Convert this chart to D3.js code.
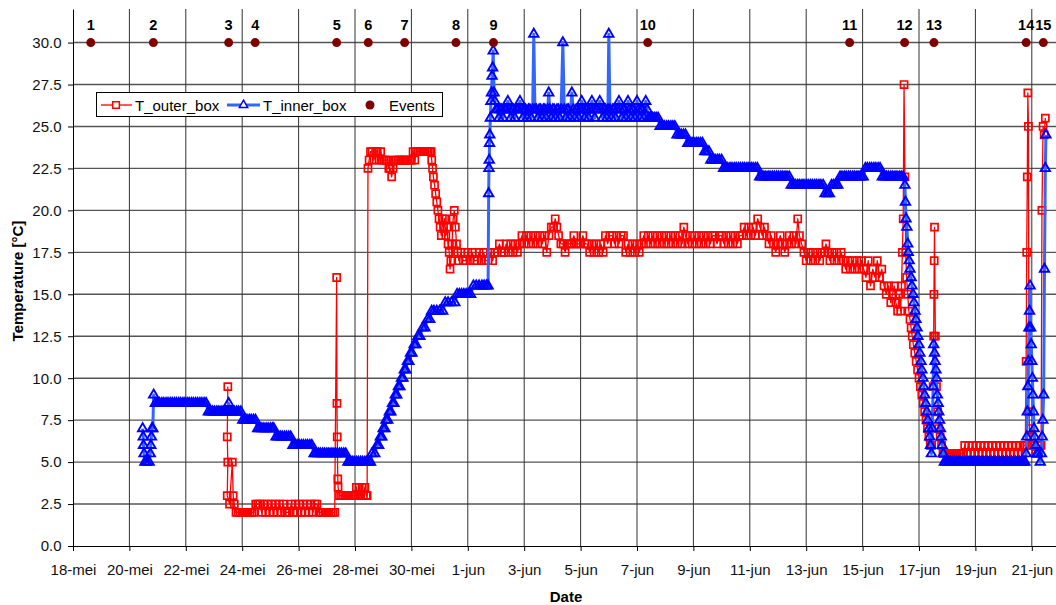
<!DOCTYPE html>
<html>
<head>
<meta charset="utf-8">
<script src="https://cdn.jsdelivr.net/npm/d3@7"></script>
<style>
  body { margin: 0; background: #fff; }
  svg { display: block; font-family: "Liberation Sans", Arial, sans-serif; }
</style>
</head>
<body>
<svg id="chart" width="1056" height="605"></svg>
<script>
// x values are days after 18-mei (0 = 18-mei 00:00)

// Tick labels of the date axis, one every 2 days
const dateTicks = [0, 2, 4, 6, 8, 10, 12, 14, 16, 18, 20, 22, 24, 26, 28, 30, 32, 34];
const dateLabels = ["18-mei", "20-mei", "22-mei", "24-mei", "26-mei", "28-mei", "30-mei",
    "1-jun", "3-jun", "5-jun", "7-jun", "9-jun", "11-jun", "13-jun", "15-jun",
    "17-jun", "19-jun", "21-jun"];
const tempTicks = [0, 2.5, 5, 7.5, 10, 12.5, 15, 17.5, 20, 22.5, 25, 27.5, 30];

// Events (all plotted at 30 degrees)
const eventDays = [0.63, 2.85, 5.52, 6.46, 9.35, 10.47, 11.76, 13.58, 14.91, 20.38, 27.54, 29.49, 30.53, 33.8, 34.41];
const eventLabels = ["1", "2", "3", "4", "5", "6", "7", "8", "9", "10", "11", "12", "13", "14", "15"];
const eventLevel = 30;

// T_outer_box [day, degC]
const outerBox = [
    [5.49,9.5],[5.47,6.5],[5.49,5],[5.47,3],[5.55,2.5],[5.65,5],[5.68,3],[5.72,2.5],[5.78,2],
    [5.85,2],[5.92,2],[5.99,2],[6.06,2],[6.13,2],[6.2,2],[6.27,2],[6.34,2],[6.41,2],[6.48,2.5],
    [6.55,2.5],[6.62,2.5],[6.69,2],[6.76,2.5],[6.83,2],[6.9,2.5],[6.97,2],[7.04,2.5],[7.11,2],
    [7.18,2.5],[7.25,2],[7.32,2.5],[7.39,2],[7.46,2.5],[7.53,2],[7.6,2],[7.67,2],[7.74,2.5],
    [7.81,2],[7.88,2.5],[7.95,2],[8.02,2.5],[8.09,2],[8.16,2.5],[8.23,2],[8.3,2.5],[8.37,2],
    [8.44,2.5],[8.51,2],[8.58,2.5],[8.65,2.5],[8.72,2],[8.79,2],[8.86,2],[8.93,2],[9.0,2],
    [9.07,2],[9.14,2],[9.21,2],[9.28,2],
    [9.35,16],[9.36,8.5],[9.37,6.5],[9.39,4],[9.4,3.5],[9.45,3],[9.52,3],[9.59,3],[9.66,3],
    [9.73,3],[9.8,3],[9.87,3],[9.94,3],[10.01,3],[10.05,3.5],[10.1,3],[10.15,3.5],[10.2,3],
    [10.25,3.5],[10.3,3],[10.35,3.5],[10.4,3],[10.43,3],
    [10.46,22.5],[10.5,23],[10.55,23.5],[10.61,23.5],[10.67,23],[10.73,23.5],[10.79,23.5],
    [10.85,23],[10.91,23.5],[10.97,23],[11.03,23],[11.09,23],[11.15,23],[11.2,22.5],
    [11.25,22.5],[11.3,22],[11.35,22.5],[11.4,23],[11.46,23],[11.52,23],[11.58,23],[11.64,23],
    [11.7,23],[11.76,23],[11.82,23],[11.88,23],[11.94,23],[12.0,23],[12.06,23.5],[12.12,23],
    [12.18,23.5],[12.24,23.5],[12.3,23.5],[12.36,23.5],[12.42,23.5],[12.48,23.5],[12.54,23.5],
    [12.6,23.5],[12.66,23.5],[12.7,23.5],
    [12.72,23],[12.75,22.5],[12.78,22],[12.82,21.5],[12.86,21],[12.9,20.5],[12.94,20],
    [12.98,19.5],[13.02,19],[13.06,18.5],[13.1,19.5],[13.14,19],[13.18,19.5],[13.22,18.5],
    [13.26,19],[13.3,18],[13.34,17.5],[13.37,16.5],[13.4,17],[13.44,18],[13.48,19.5],
    [13.52,20],[13.56,19],[13.6,18],[13.64,17.5],
    [13.68,17],[13.76,17.5],[13.84,17],[13.92,17],[14.0,17.5],[14.08,17],[14.16,17.5],
    [14.24,17],[14.32,17],[14.4,17.5],[14.48,17],[14.56,17.5],[14.64,17],[14.72,17],
    [14.8,17.5],[14.88,17],[14.96,17.5],
    [15.04,17.5],[15.12,18],[15.2,17.5],[15.28,17.5],[15.36,18],[15.44,17.5],[15.52,18],
    [15.6,17.5],[15.68,18],[15.76,17.5],[15.84,18],
    [15.92,18.5],[16.0,18],[16.08,18.5],[16.16,18],[16.24,18.5],[16.32,18],[16.4,18.5],
    [16.48,18],[16.56,18.5],[16.64,18],[16.72,18.5],
    [16.8,17.5],[16.88,18.5],[16.96,19],[17.04,19],[17.1,19.5],[17.16,19],[17.22,18.5],
    [17.3,18],[17.38,18],[17.45,17.5],[17.52,18],
    [17.6,18],[17.68,18],[17.76,18.5],[17.84,18],[17.92,18],[18.0,18],[18.08,18.5],[18.16,18],
    [18.24,18],[18.32,17.5],[18.4,18],[18.48,17.5],[18.56,18],[18.64,17.5],[18.72,18],
    [18.8,17.5],
    [18.88,18.5],[18.96,18],[19.04,18.5],[19.12,18.5],[19.2,18],[19.28,18.5],[19.36,18],
    [19.44,18.5],[19.52,18.5],
    [19.6,17.5],[19.68,18],[19.76,17.5],[19.84,18],[19.92,17.5],[20.0,18],[20.08,17.5],
    [20.16,18],[20.24,18.5],[20.32,18],[20.4,18.5],[20.48,18],[20.56,18.5],[20.64,18],
    [20.72,18.5],[20.8,18],[20.88,18.5],[20.96,18],[21.04,18.5],[21.12,18],[21.2,18.5],
    [21.28,18],[21.36,18.5],[21.44,18],[21.52,18.5],[21.6,18],[21.66,19],[21.72,18.5],
    [21.8,18],[21.88,18.5],[21.96,18],[22.04,18.5],[22.12,18],[22.2,18.5],[22.28,18],
    [22.36,18.5],[22.44,18],[22.52,18.5],[22.6,18],[22.68,18.5],[22.76,18.5],[22.84,18],
    [22.92,18.5],[23.0,18.5],[23.08,18],[23.16,18.5],[23.24,18],[23.32,18.5],[23.4,18],
    [23.48,18.5],[23.56,18],[23.64,18.5],
    [23.72,18.5],[23.8,19],[23.88,18.5],[23.96,19],[24.04,18.5],[24.12,19],[24.2,18.5],
    [24.28,19.5],[24.36,19],[24.44,18.5],[24.52,19],[24.6,18.5],
    [24.68,18],[24.76,18.5],[24.84,18],[24.92,17.5],[25.0,18],[25.08,18.5],[25.16,18],
    [25.24,17.5],[25.32,18],[25.4,18.5],[25.48,18],[25.56,18.5],[25.64,18],[25.7,19.5],
    [25.76,18.5],[25.84,18],
    [25.92,17.5],[26.0,17],[26.08,17.5],[26.16,17],[26.24,17.5],[26.32,17],[26.4,17.5],
    [26.48,17],[26.56,17.5],[26.64,17.5],[26.7,18],[26.76,17.5],[26.84,17],[26.92,17.5],
    [27.0,17],[27.08,17.5],[27.16,17],[27.24,17.5],[27.32,17],
    [27.4,16.5],[27.48,17],[27.56,16.5],[27.64,17],[27.72,16.5],[27.8,17],[27.88,16.5],
    [27.96,17],[28.04,16.5],
    [28.12,16],[28.2,17],[28.28,15.5],[28.36,16.5],[28.44,16],[28.52,17],[28.6,16],
    [28.68,16.5],[28.76,15.5],
    [28.84,15],[28.92,15.5],[29.0,14.5],[29.06,15],[29.12,15.5],[29.18,14.5],[29.24,14],
    [29.3,15],[29.35,14],[29.38,15.5],
    [29.41,17.5],[29.44,19.5],[29.47,27.5],[29.5,22],[29.53,17.5],[29.56,16],[29.6,15],
    [29.64,14],[29.68,13.5],[29.72,13],[29.76,12.5],[29.8,12],[29.85,11.5],[29.9,11],
    [29.95,10.5],[30.0,10],[30.05,9.5],[30.1,9],[30.15,8.5],[30.2,8],[30.25,7.5],[30.3,7],
    [30.35,6.5],[30.4,6],[30.45,6],[30.5,9.5],[30.52,12.5],[30.53,15],[30.54,17],[30.55,19],
    [30.58,12.5],[30.62,9.5],[30.66,8],[30.7,7],[30.75,6.5],[30.8,6],[30.85,5.5],
    [30.92,5.5],[30.99,5.5],[31.06,5.5],[31.13,5.5],[31.2,5.5],[31.27,5.5],[31.34,5.5],
    [31.41,5.5],[31.48,5.5],[31.55,5.5],[31.62,6],[31.69,5.5],[31.76,6],[31.83,5.5],
    [31.9,6],[31.97,5.5],[32.04,6],[32.11,5.5],[32.18,6],[32.25,5.5],[32.32,6],[32.39,5.5],
    [32.46,6],[32.53,5.5],[32.6,6],[32.67,5.5],[32.74,6],[32.81,5.5],[32.88,6],[32.95,5.5],
    [33.02,6],[33.09,5.5],[33.16,6],[33.23,5.5],[33.3,6],[33.37,5.5],[33.44,6],[33.51,5.5],
    [33.58,6],[33.65,5.5],[33.72,6],[33.77,6],
    [33.8,11],[33.82,17.5],[33.84,22],[33.86,27],[33.88,25],[33.9,8],[33.92,7],[33.95,6.5],
    [34.0,6],[34.07,6],[34.14,5.5],[34.21,6],[34.28,6],[34.33,6],[34.36,20],[34.4,25],
    [34.44,24.5],[34.48,25.5]
];

// T_inner_box [day, degC]
const innerBox = [
    [2.47,7],[2.49,6.5],[2.5,6],[2.52,5.5],[2.55,5],[2.62,5],[2.7,5],[2.74,5.5],[2.76,6],
    [2.78,6.5],[2.8,7],[2.83,7],[2.86,9],
    [2.92,8.5],[3.0,8.5],[3.07,8.5],[3.15,8.5],[3.22,8.5],[3.3,8.5],[3.37,8.5],[3.45,8.5],
    [3.52,8.5],[3.6,8.5],[3.67,8.5],[3.75,8.5],[3.82,8.5],[3.9,8.5],[3.97,8.5],[4.05,8.5],
    [4.12,8.5],[4.2,8.5],[4.27,8.5],[4.35,8.5],[4.42,8.5],[4.5,8.5],[4.57,8.5],[4.65,8.5],
    [4.72,8.5],
    [4.8,8],[4.87,8],[4.95,8],[5.02,8],[5.1,8],[5.17,8],[5.25,8],[5.32,8],[5.4,8],[5.47,8],
    [5.52,8.5],[5.57,8],[5.65,8],[5.72,8],[5.8,8],[5.87,8],[5.95,8],
    [6.02,7.5],[6.1,7.5],[6.17,7.5],[6.25,7.5],[6.32,7.5],[6.4,7.5],[6.47,7.5],
    [6.55,7],[6.62,7],[6.7,7],[6.77,7],[6.85,7],[6.92,7],[7.0,7],[7.07,7],[7.12,7],
    [7.2,6.5],[7.27,6.5],[7.35,6.5],[7.42,6.5],[7.5,6.5],[7.57,6.5],[7.65,6.5],[7.72,6.5],
    [7.8,6],[7.87,6],[7.95,6],[8.02,6],[8.1,6],[8.17,6],[8.25,6],[8.32,6],[8.4,6],[8.47,6],
    [8.55,5.5],[8.62,5.5],[8.7,5.5],[8.77,5.5],[8.85,5.5],[8.92,5.5],[9.0,5.5],[9.07,5.5],
    [9.15,5.5],[9.22,5.5],[9.3,5.5],[9.37,5.5],[9.45,5.5],[9.52,5.5],[9.6,5.5],[9.67,5.5],
    [9.75,5],[9.82,5],[9.9,5],[9.97,5],[10.05,5],[10.12,5],[10.2,5],[10.27,5],[10.35,5],
    [10.42,5],[10.5,5],[10.55,5],
    [10.6,5.5],[10.7,5.5],[10.78,6],[10.84,6],[10.9,6.5],[10.95,6.5],[11.0,7],[11.06,7],
    [11.1,7.5],[11.16,7.5],[11.22,8],[11.27,8],[11.33,8.5],[11.38,8.5],[11.43,9],[11.48,9],
    [11.54,9.5],[11.59,9.5],[11.65,10],[11.7,10],[11.75,10.5],[11.8,10.5],[11.86,11],
    [11.91,11],[11.97,11.5],[12.02,11.5],[12.1,12],[12.16,12],[12.23,12.5],[12.3,12.5],
    [12.4,13],[12.48,13],[12.57,13.5],[12.65,13.5],[12.72,14],[12.8,14],[12.9,14],[13.0,14],
    [13.11,14],[13.2,14.5],[13.3,14.5],[13.42,14.5],[13.54,14.5],[13.62,15],[13.7,15],
    [13.78,15],[13.86,15],[13.94,15],[14.02,15],[14.1,15],[14.2,15.5],[14.3,15.5],
    [14.4,15.5],[14.5,15.5],[14.58,15.5],[14.66,15.5],[14.72,15.5],
    [14.74,21],[14.75,22.5],[14.76,23],[14.77,24],[14.78,24.5],[14.8,25.5],[14.82,26.5],
    [14.84,27],[14.86,28],[14.88,28.5],[14.9,29.5],[14.93,27],[14.96,26.5],
    [15.0,26],[15.05,26],[15.1,25.5],[15.15,26],[15.2,26],[15.25,25.5],[15.3,26],[15.36,26],
    [15.42,26.5],[15.47,26],[15.52,25.5],[15.57,26],[15.62,26],[15.67,25.5],[15.72,26],
    [15.78,26],[15.85,26.5],[15.9,26],[15.95,25.5],[16.0,26],[16.05,26],[16.1,25.5],
    [16.15,26],[16.2,26],[16.25,25.5],[16.3,26],[16.34,30.5],[16.38,26],[16.43,26],
    [16.48,25.5],[16.53,26],[16.58,26],[16.63,25.5],[16.68,26],[16.73,26],[16.78,25.5],
    [16.83,26],[16.87,27],[16.91,26],[16.96,25.5],[17.01,26],[17.06,26],[17.11,25.5],
    [17.16,26],[17.21,26],[17.26,25.5],[17.31,26],[17.37,30],[17.42,26],[17.47,25.5],
    [17.52,26],[17.57,26],[17.62,25.5],[17.69,27],[17.74,26],[17.79,25.5],[17.84,26],
    [17.89,26],[17.94,25.5],[17.99,26],[18.04,26.5],[18.09,26],[18.14,25.5],[18.19,26],
    [18.24,26],[18.29,25.5],[18.34,26],[18.4,26.5],[18.45,26],[18.5,25.5],[18.55,26],
    [18.6,26],[18.68,26.5],[18.73,26],[18.78,25.5],[18.83,26],[18.88,26],[18.93,25.5],
    [18.97,26],[19.0,30.5],[19.04,26],[19.09,25.5],[19.14,26],[19.19,26],[19.24,25.5],
    [19.29,26],[19.36,26.5],[19.41,26],[19.46,25.5],[19.51,26],[19.56,26],[19.61,25.5],
    [19.68,26.5],[19.73,26],[19.78,25.5],[19.83,26],[19.88,26],[19.93,25.5],[20.0,26.5],
    [20.05,26],[20.1,25.5],[20.15,26],[20.2,26],[20.25,25.5],[20.31,26.5],[20.36,26],
    [20.41,25.5],[20.47,25.5],[20.54,25.5],[20.61,25.5],[20.68,25.5],[20.75,25.5],
    [20.82,25],[20.9,25],[20.97,25],[21.05,25],[21.12,25],[21.2,25],[21.27,25],[21.34,25],
    [21.42,24.5],[21.5,24.5],[21.57,24.5],[21.65,24.5],[21.72,24.5],
    [21.8,24],[21.87,24],[21.95,24],[22.02,24],[22.1,24],[22.17,24],[22.25,24],[22.32,24],
    [22.4,23.5],[22.47,23.5],[22.55,23.5],
    [22.62,23],[22.7,23],[22.77,23],[22.85,23],[22.92,23],[23.0,23],
    [23.07,22.5],[23.15,22.5],[23.22,22.5],[23.3,22.5],[23.37,22.5],[23.45,22.5],[23.52,22.5],
    [23.6,22.5],[23.67,22.5],[23.75,22.5],[23.82,22.5],[23.9,22.5],[23.97,22.5],[24.05,22.5],
    [24.12,22.5],[24.2,22.5],[24.27,22.5],
    [24.35,22],[24.42,22],[24.5,22],[24.57,22],[24.65,22],[24.72,22],[24.8,22],[24.87,22],
    [24.95,22],[25.02,22],[25.1,22],[25.17,22],[25.25,22],[25.32,22],[25.4,22],
    [25.47,21.5],[25.55,21.5],[25.62,21.5],[25.7,21.5],[25.77,21.5],[25.85,21.5],[25.92,21.5],
    [26.0,21.5],[26.07,21.5],[26.15,21.5],[26.22,21.5],[26.3,21.5],[26.37,21.5],[26.45,21.5],
    [26.52,21.5],[26.6,21.5],
    [26.67,21],[26.75,21],[26.82,21],
    [26.9,21.5],[26.97,21.5],[27.05,21.5],[27.12,21.5],
    [27.2,22],[27.27,22],[27.35,22],[27.42,22],[27.5,22],[27.57,22],[27.65,22],[27.72,22],
    [27.8,22],[27.87,22],[27.95,22],[28.02,22],
    [28.1,22.5],[28.17,22.5],[28.25,22.5],[28.32,22.5],[28.4,22.5],[28.47,22.5],[28.55,22.5],
    [28.62,22.5],
    [28.7,22],[28.77,22],[28.85,22],[28.92,22],[29.0,22],[29.07,22],[29.15,22],[29.22,22],
    [29.3,22],[29.37,22],[29.44,22],
    [29.5,21.5],[29.52,20.5],[29.54,19.5],[29.57,19],[29.6,18],[29.62,17.5],[29.65,17],
    [29.68,16.5],[29.72,16],[29.75,15.5],[29.79,15],[29.82,14.5],[29.86,14],[29.89,13.5],
    [29.93,13],[29.96,12.5],[30.0,12],[30.03,11.5],[30.07,11],[30.1,10.5],[30.14,10],
    [30.17,9.5],[30.2,9],[30.24,8.5],[30.28,8],[30.31,7.5],[30.35,7],[30.38,6.5],[30.41,6],
    [30.44,5.5],[30.47,7],[30.5,9.5],[30.52,12],[30.55,11.5],[30.57,11],[30.6,10.5],
    [30.62,10],[30.65,9],[30.68,8.5],[30.7,8],[30.73,7.5],[30.76,7],[30.79,6.5],[30.82,6],
    [30.86,5.5],[30.9,5],
    [30.97,5],[31.04,5],[31.11,5],[31.18,5],[31.25,5],[31.32,5],[31.39,5],[31.46,5],[31.53,5],
    [31.6,5],[31.67,5],[31.74,5],[31.81,5],[31.88,5],[31.95,5],[32.02,5],[32.09,5],[32.16,5],
    [32.23,5],[32.3,5],[32.37,5],[32.44,5],[32.51,5],[32.58,5],[32.65,5],[32.72,5],[32.79,5],
    [32.86,5],[32.93,5],[33.0,5],[33.07,5],[33.14,5],[33.21,5],[33.28,5],[33.35,5],[33.42,5],
    [33.49,5],[33.56,5],[33.63,5],[33.7,5],[33.76,5],
    [33.8,5.5],[33.82,6.5],[33.84,8],[33.86,9.5],[33.88,11],[33.9,13],[33.92,14],[33.94,15.5],
    [33.96,13],[33.98,12],[34.0,11],[34.02,10],[34.04,9],[34.06,8],[34.08,7],[34.1,6.5],
    [34.14,6],[34.18,5.5],[34.22,5.5],[34.3,5],[34.34,5.5],[34.37,6.5],[34.39,7.5],
    [34.42,9],[34.45,16.5],[34.48,22.5],[34.5,24.5]
];

// Plot area
var margin = {
    top: 9,
    left: 73,
    bottom: 59,
    right: 0
};
var width = 987;   // 35 days
var height = 537;  // 0..32 degC

var svg = d3.select("#chart");

var x = d3.scaleLinear().domain([0, 35]).range([margin.left, margin.left + width]);
var y = d3.scaleLinear().domain([0, 32]).range([margin.top + height, margin.top]);

// grid lines
svg.append("g")
    .selectAll("line")
    .data(tempTicks.slice(1))
    .enter()
    .append("line")
        .attr("x1", margin.left)
        .attr("x2", margin.left + width)
        .attr("y1", d => y(d))
        .attr("y2", d => y(d))
        .attr("stroke", "#555")
        .attr("stroke-width", 1.4);

svg.append("g")
    .selectAll("line")
    .data(dateTicks.slice(1))
    .enter()
    .append("line")
        .attr("x1", d => x(d))
        .attr("x2", d => x(d))
        .attr("y1", margin.top)
        .attr("y2", margin.top + height)
        .attr("stroke", "#333")
        .attr("stroke-width", 1);

// axes
var xAxis = svg.append("g")
    .attr("transform", "translate(0," + (margin.top + height) + ")")
    .call(d3.axisBottom(x)
        .tickValues(dateTicks)
        .tickFormat((d, i) => dateLabels[i])
        .tickSize(5)
        .tickPadding(13.5)
        .tickSizeOuter(0));

var yAxis = svg.append("g")
    .attr("transform", "translate(" + margin.left + ",0)")
    .call(d3.axisLeft(y)
        .tickValues(tempTicks)
        .tickFormat(d3.format(".1f"))
        .tickSize(5)
        .tickPadding(6.5)
        .tickSizeOuter(0));

[xAxis, yAxis].forEach(function(a) {
    a.selectAll("text")
        .attr("fill", "#111")
        .style("font-size", "15px")
        .style("font-family", "'Liberation Sans', Arial, sans-serif");
    a.selectAll("line").attr("stroke", "#000");
    a.select(".domain").attr("stroke", "#000");
});

// axis titles
svg.append("text")
    .attr("x", 566)
    .attr("y", 602)
    .attr("text-anchor", "middle")
    .style("font-size", "15px")
    .style("font-weight", "bold")
    .text("Date");

svg.append("text")
    .attr("transform", "translate(23," + 281 + ") rotate(-90)")
    .attr("text-anchor", "middle")
    .style("font-size", "15px")
    .style("font-weight", "bold")
    .text("Temperature [\u00B0C]");

// clip the series to the plot
svg.append("clipPath")
    .attr("id", "plotClip")
    .append("rect")
        .attr("x", margin.left)
        .attr("y", 0)
        .attr("width", width)
        .attr("height", margin.top + height);

var line = d3.line()
    .x(d => x(d[0]))
    .y(d => y(d[1]));

var squareSym = d3.symbol().type(d3.symbolSquare).size(50);
var triangleSym = d3.symbol().type(d3.symbolTriangle).size(38);

function drawSeries(data, lineColor, lineWidth, markColor, sym, markWidth) {
    var g = svg.append("g").attr("clip-path", "url(#plotClip)");
    g.append("path")
        .datum(data)
        .attr("d", line)
        .attr("fill", "none")
        .attr("stroke", lineColor)
        .attr("stroke-width", lineWidth)
        .attr("stroke-linejoin", "round");
    g.selectAll(".mark")
        .data(data)
        .enter()
        .append("path")
            .attr("class", "mark")
            .attr("d", sym)
            .attr("transform", d => "translate(" + x(d[0]) + "," + y(d[1]) + ")")
            .attr("fill", "none")
            .attr("stroke", markColor)
            .attr("stroke-width", markWidth);
}

drawSeries(outerBox, "#ff0000", 1.3, "#ff0000", squareSym, 1.7);
drawSeries(innerBox, "#3366ff", 3, "#0000ff", triangleSym, 1.9);

// events
svg.append("g")
    .selectAll("circle")
    .data(eventDays)
    .enter()
    .append("circle")
        .attr("cx", d => x(d))
        .attr("cy", y(eventLevel))
        .attr("r", 4.5)
        .attr("fill", "#800000");

svg.append("g")
    .selectAll("text")
    .data(eventDays)
    .enter()
    .append("text")
        .attr("x", d => x(d))
        .attr("y", 29.5)
        .attr("text-anchor", "middle")
        .style("font-size", "14.5px")
        .style("font-weight", "bold")
        .text((d, i) => eventLabels[i]);

// legend
var legend = svg.append("g");
legend.append("rect")
    .attr("x", 96.5)
    .attr("y", 92.5)
    .attr("width", 346)
    .attr("height", 24)
    .attr("fill", "#fff")
    .attr("stroke", "#000")
    .attr("stroke-width", 1);

var ly = 105;
legend.append("line")
    .attr("x1", 101).attr("x2", 132).attr("y1", ly).attr("y2", ly)
    .attr("stroke", "#ff0000").attr("stroke-width", 1.3);
legend.append("path")
    .attr("d", d3.symbol().type(d3.symbolSquare).size(45))
    .attr("transform", "translate(116," + ly + ")")
    .attr("fill", "#fff").attr("stroke", "#ff0000").attr("stroke-width", 1.5);
legend.append("text")
    .attr("x", 135).attr("y", ly + 5.5)
    .style("font-size", "15px")
    .text("T_outer_box");

legend.append("line")
    .attr("x1", 227).attr("x2", 260).attr("y1", ly).attr("y2", ly)
    .attr("stroke", "#3366ff").attr("stroke-width", 3);
legend.append("path")
    .attr("d", d3.symbol().type(d3.symbolTriangle).size(30))
    .attr("transform", "translate(243.5," + ly + ")")
    .attr("fill", "#fff").attr("stroke", "#0000ff").attr("stroke-width", 1.5);
legend.append("text")
    .attr("x", 263).attr("y", ly + 5.5)
    .style("font-size", "15px")
    .text("T_inner_box");

legend.append("circle")
    .attr("cx", 370).attr("cy", ly).attr("r", 4.5)
    .attr("fill", "#800000");
legend.append("text")
    .attr("x", 389).attr("y", ly + 5.5)
    .style("font-size", "15px")
    .text("Events");
</script>
</body>
</html>
